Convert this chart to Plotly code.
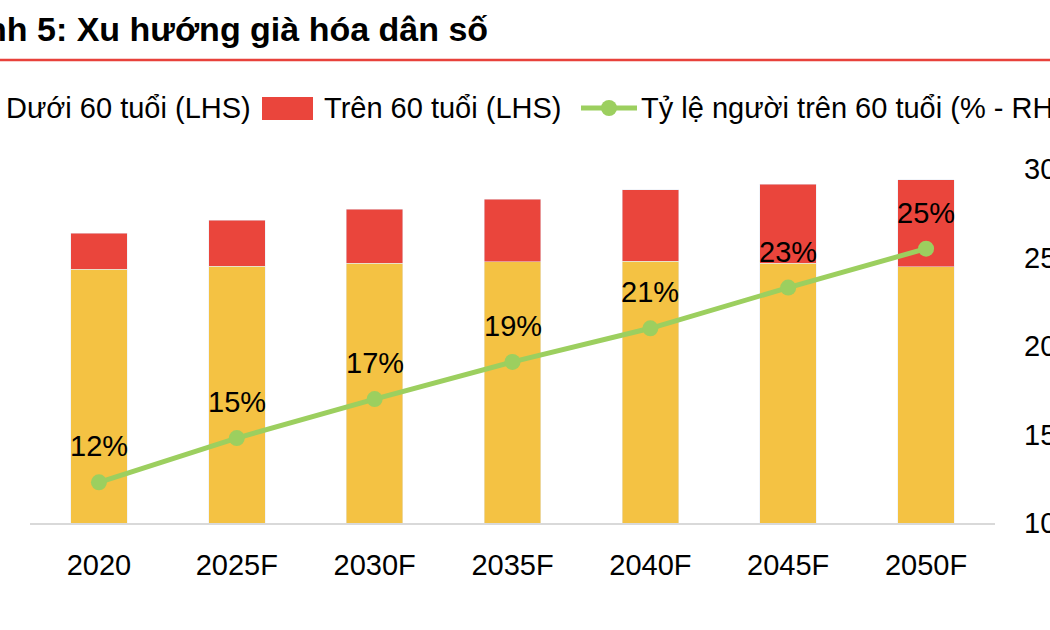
import plotly.graph_objects as go

# ---------------- data ----------------
categories = ["2020", "2025F", "2030F", "2035F", "2040F", "2045F", "2050F"]
under60 = [86.1, 87.1, 88.1, 88.5, 88.8, 88.1, 86.8]      # LHS, triệu người
over60 = [12.2, 15.6, 18.3, 21.3, 24.1, 26.8, 29.5]       # LHS, triệu người
ratio60 = [12.3, 14.8, 17.0, 19.1, 21.0, 23.3, 25.5]      # RHS, %
ratio_labels = ["12%", "15%", "17%", "19%", "21%", "23%", "25%"]
right_ticks = [10, 15, 20, 25, 30]
series_names = ["Dưới 60 tuổi (LHS)", "Trên 60 tuổi (LHS)", "Tỷ lệ người trên 60 tuổi (% - RHS)"]
title_text = "Hình 5: Xu hướng già hóa dân số"

# ---------------- style ----------------
YELLOW = "#F4C243"
RED = "#EA453C"
GREEN = "#9CCF5F"
FONT = "Liberation Sans, Arial, sans-serif"
W, H = 1050, 630
L, R, T, B = 30, 55, 169, 107
PW, PH = W - L - R, H - T - B


def px(x):
    return (x - L) / PW


def py(y):
    return (H - B - y) / PH


fig = go.Figure()
fig.add_trace(go.Bar(x=categories, y=under60, name=series_names[0], marker_color=YELLOW,
                     width=0.41, showlegend=False, yaxis="y"))
fig.add_trace(go.Bar(x=categories, y=over60, name=series_names[1], marker_color=RED,
                     width=0.41, showlegend=False, yaxis="y"))
fig.add_trace(go.Scatter(x=categories, y=ratio60, name=series_names[2], mode="lines+markers",
                         line=dict(color=GREEN, width=5), marker=dict(color=GREEN, size=16),
                         showlegend=False, yaxis="y2"))

annotations = []
for i, (v, t) in enumerate(zip(ratio60, ratio_labels)):
    annotations.append(dict(x=i, y=v, xref="x", yref="y2", yshift=36, text=t, showarrow=False,
                            font=dict(size=29, color="#000000", family=FONT)))

# title
annotations.append(dict(x=px(490), y=py(29), xref="paper", yref="paper", xanchor="right",
                        yanchor="middle", text="<b>" + title_text + "</b>", showarrow=False,
                        font=dict(size=34, color="#000000", family=FONT)))

# manual legend
leg_y = 108
annotations.append(dict(x=px(4), y=py(leg_y), xref="paper", yref="paper", xanchor="left",
                        yanchor="middle", text=series_names[0], showarrow=False,
                        font=dict(size=29, color="#000000", family=FONT)))
annotations.append(dict(x=px(322), y=py(leg_y), xref="paper", yref="paper", xanchor="left",
                        yanchor="middle", text=series_names[1], showarrow=False,
                        font=dict(size=29, color="#000000", family=FONT)))
annotations.append(dict(x=px(639), y=py(leg_y), xref="paper", yref="paper", xanchor="left",
                        yanchor="middle", text=series_names[2], showarrow=False,
                        font=dict(size=29, color="#000000", family=FONT)))

shapes = [
    # red rule under title
    dict(type="line", xref="paper", yref="paper", x0=px(0), x1=px(W), y0=py(60), y1=py(60),
         line=dict(color="#E8413B", width=2.5)),
    # legend swatches
    dict(type="rect", xref="paper", yref="paper", x0=px(-58), x1=px(-7), y0=py(120), y1=py(97),
         fillcolor=YELLOW, line=dict(width=0)),
    dict(type="rect", xref="paper", yref="paper", x0=px(262), x1=px(313), y0=py(120), y1=py(97),
         fillcolor=RED, line=dict(width=0)),
    dict(type="line", xref="paper", yref="paper", x0=px(581), x1=px(637), y0=py(leg_y), y1=py(leg_y),
         line=dict(color=GREEN, width=5)),
    dict(type="circle", xref="paper", yref="paper", x0=px(601), x1=px(617), y0=py(leg_y + 8),
         y1=py(leg_y - 8), fillcolor=GREEN, line=dict(width=0)),
]

fig.update_layout(
    width=W, height=H,
    margin=dict(l=L, r=R, t=T, b=B, pad=0),
    barmode="stack",
    plot_bgcolor="white", paper_bgcolor="white",
    font=dict(family=FONT, size=29, color="#000000"),
    showlegend=False,
    xaxis=dict(type="category", range=[-0.5, len(categories) - 0.5], showline=True,
               linecolor="#D9D9D9", linewidth=2, showgrid=False,
               zeroline=False, ticks="", tickfont=dict(size=29), ticklabelstandoff=15,
               automargin=False),
    yaxis=dict(range=[0, 120], visible=False, showgrid=False, zeroline=False, automargin=False),
    yaxis2=dict(range=[10, 30], overlaying="y", side="right", tickvals=right_ticks,
                showgrid=False, zeroline=False, showline=False, ticks="",
                tickfont=dict(size=29), ticklabelstandoff=28, automargin=False),
    annotations=annotations,
    shapes=shapes,
)

fig.write_html("out.html")
